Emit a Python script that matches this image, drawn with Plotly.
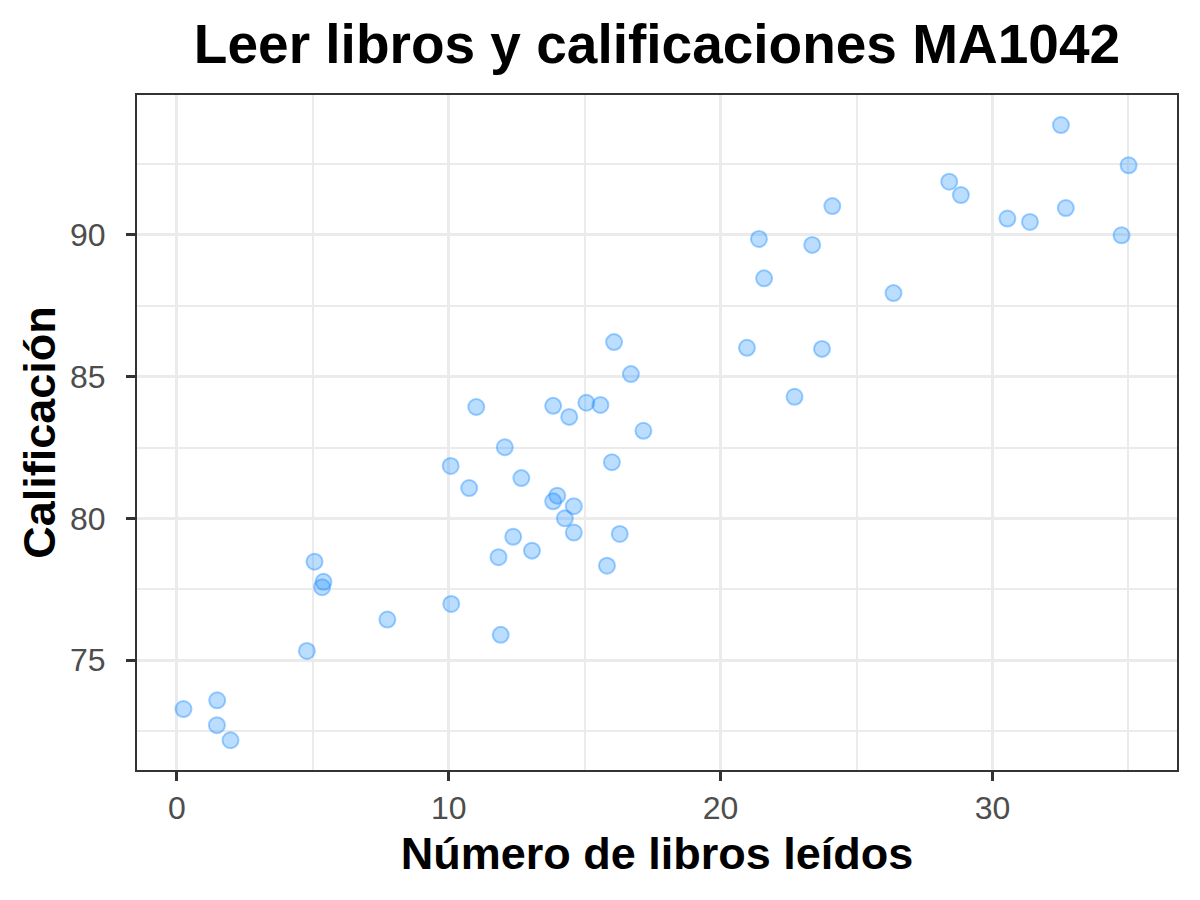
import plotly.graph_objects as go

# Número de libros leídos vs calificación
libros = [0.24, 1.48, 1.47, 1.97, 4.78, 5.06, 5.39, 5.34, 7.74, 10.09,
          10.07, 10.75, 12.06, 12.67, 11.83, 11.91, 12.37, 13.06, 13.99, 13.84,
          14.60, 14.27, 14.60, 16.29, 15.82, 16.00, 17.16, 11.01, 13.84, 14.43,
          15.06, 15.58, 16.08, 16.70, 32.52, 35.01, 28.41, 28.84, 24.11, 21.41,
          23.37, 21.60, 26.36, 30.55, 31.38, 32.70, 34.75, 20.97, 23.73, 22.72]
calificacion = [73.27, 73.58, 72.70, 72.17, 75.32, 78.47, 77.76, 77.57, 76.43, 76.98,
                81.85, 81.07, 82.51, 81.42, 78.63, 75.89, 79.35, 78.86, 80.80, 80.60,
                80.43, 80.00, 79.50, 79.45, 78.33, 81.98, 83.09, 83.93, 83.97, 83.58,
                84.08, 84.00, 86.22, 85.09, 93.88, 92.46, 91.88, 91.41, 91.02, 89.86,
                89.65, 88.47, 87.95, 90.58, 90.46, 90.95, 89.99, 86.02, 85.98, 84.29]

x_ticks = [0, 10, 20, 30]
y_ticks = [75, 80, 85, 90]

FONT = "Liberation Sans, Arial, sans-serif"

fig = go.Figure()
fig.add_trace(go.Scatter(
    x=libros, y=calificacion, mode="markers",
    marker=dict(size=16, color="rgba(30,144,255,0.3)",
                line=dict(color="rgba(30,144,255,0.42)", width=2)),
    showlegend=False,
))

axis_common = dict(
    showgrid=True, gridcolor="#ebebeb", gridwidth=3,
    zeroline=False,
    showline=True, mirror=True, linecolor="#333333", linewidth=2,
    ticks="outside", ticklen=9, tickwidth=3, tickcolor="#333333",
    tickfont=dict(family=FONT, size=32, color="#4d4d4d"),
    title_font=dict(family=FONT, size=45, color="black"),
)

fig.update_xaxes(
    range=[-1.47, 36.79], tickvals=x_ticks,
    minor=dict(dtick=5, tick0=5, showgrid=True, gridcolor="#ebebeb", gridwidth=1.5),
    title_text="<b>Número de libros leídos</b>", title_standoff=12,
    **axis_common,
)
fig.update_yaxes(
    range=[71.12, 94.94], tickvals=y_ticks,
    minor=dict(dtick=5, tick0=72.5, showgrid=True, gridcolor="#ebebeb", gridwidth=1.5),
    title_text="<b>Calificación</b>", title_standoff=0,
    ticklabelstandoff=14,
    **axis_common,
)

fig.update_layout(
    width=1200, height=900,
    margin=dict(l=129, r=31, t=87, b=138),
    paper_bgcolor="white", plot_bgcolor="white",
    title=dict(text="<b>Leer libros y calificaciones MA1042</b>",
               x=0.5, xref="paper", xanchor="center",
               y=0.96, yanchor="middle",
               font=dict(family=FONT, size=55, color="black")),
)

fig.write_html("out.html")
